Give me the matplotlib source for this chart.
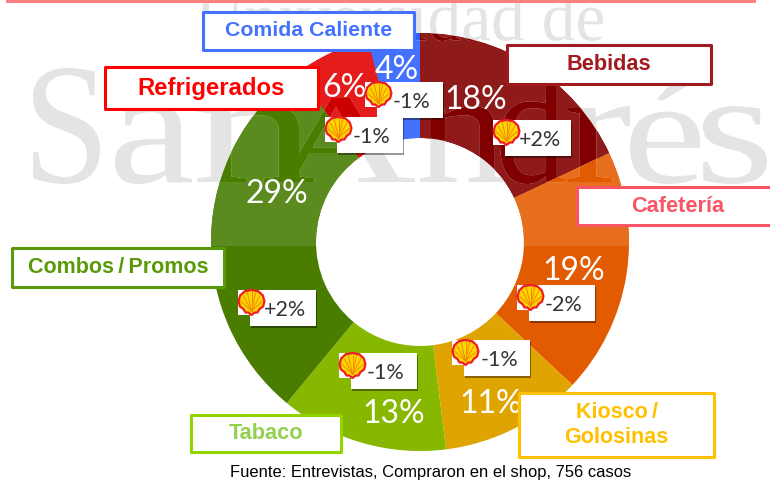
import matplotlib
matplotlib.use("Agg")
import matplotlib.pyplot as plt
from matplotlib.font_manager import FontProperties
from matplotlib.patches import PathPatch, Polygon, Rectangle
from matplotlib.path import Path
from matplotlib.textpath import TextPath
from matplotlib.transforms import Affine2D

# data
categories = ["Bebidas", "Cafetería", "Kiosco\u2009/\nGolosinas", "Tabaco", "Combos\u2009/\u2009Promos", "Refrigerados", "Comida Caliente"]
shares = [18, 19, 11, 13, 29, 6, 4]
deltas = ["+2%", "-2%", "-1%", "-1%", "+2%", "-1%", "-1%"]
source_note = "Fuente: Entrevistas, Compraron en el shop, 756 casos"

# styles, same order as categories
base_colors = ["#800000", "#e35b00", "#e0a400", "#88b700", "#4a7c00", "#cc0000", "#2f5fee"]
haze_colors = ["#8f1a1a", "#e66e1c", "#e0a400", "#88b700", "#5b8a1e", "#e51c1c", "#4472ff"]
border_colors = ["#a01a1f", "#f95565", "#ffc000", "#92d400", "#5a9a08", "#ff0000", "#4472ff"]
text_colors = ["#a01a1f", "#f95565", "#ffc000", "#92d050", "#5a9a08", "#ff0000", "#4472ff"]
label_sizes = [15.7, 15.7, 15.5, 15.7, 15.5, 17.2, 15.3]

# layout in pixels
center = (420, 242)
outer_r = 209
inner_r = 104
boxes = [(507, 45, 711, 84), (577, 187, 775, 225), (519, 393, 714, 457), (191, 415, 341, 452),
         (12, 248, 224, 287), (105, 67, 318, 109), (203, 12, 414, 50)]
pct_pos = [(476, 100), (574, 271), (491, 404), (394, 414), (277, 194), (344, 88), (397, 70)]
logo_pos = [(493, 120), (517, 285), (452, 340), (339, 353), (238, 290), (325, 117), (365, 82)]

# watermark letters: letter, left, top, right, bottom
mark_letters = [("S", 33, 68, 100, 184), ("a", 115, 106, 192, 184), ("n", 197, 106, 313, 182),
                ("A", 270, 98, 415, 182), ("n", 420, 106, 505, 182), ("d", 500, 63, 565, 184),
                ("r", 568, 106, 630, 182), ("é", 630, 78, 700, 184), ("s", 703, 106, 767, 184)]

fig = plt.figure(figsize=(7.7, 4.8), dpi=100)
ax = fig.add_axes([0, 0, 1, 1])


def donut(colors):
    wedges, _ = ax.pie(shares, colors=colors, radius=outer_r, center=center, startangle=-90,
                       counterclock=True, wedgeprops=dict(width=outer_r - inner_r, linewidth=0))
    return wedges


def fit_text(word, x0, y0, x1, y1):
    tp = TextPath((0, 0), word, size=100, prop=FontProperties(family="Liberation Serif"))
    ext = tp.get_extents()
    sx = (x1 - x0) / ext.width
    sy = (y1 - y0) / ext.height
    tr = Affine2D().translate(-ext.x0, -ext.y1).scale(sx, -sy).translate(x0, y0)
    return tr.transform_path(tp)


def shell(x, y, w=27, h=25):
    ax.add_patch(Rectangle((x, y), w - 1, h, fc="white", ec="none", zorder=8))
    outline = [(0.02, 0.45), (0.08, 0.22), (0.25, 0.05), (0.5, 0.0), (0.75, 0.05), (0.92, 0.22), (0.98, 0.45),
               (0.93, 0.66), (0.8, 0.76), (0.72, 0.9), (0.62, 0.9), (0.5, 1.0), (0.38, 0.9), (0.28, 0.9),
               (0.2, 0.76), (0.07, 0.66)]
    pts = [(x + a * w, y + b * h) for a, b in outline]
    ax.add_patch(Polygon(pts, closed=True, fc="#ffd500", ec="#ee1c25", lw=1.6, joinstyle="round", zorder=9))
    rays = [(0.1, 0.45), (0.2, 0.25), (0.35, 0.12), (0.5, 0.08), (0.65, 0.12), (0.8, 0.25), (0.9, 0.45)]
    for a, b in rays:
        ax.plot([x + 0.5 * w, x + a * w], [y + 0.84 * h, y + b * h], color="#f08a00", lw=0.7, zorder=10)


# donut, lighter above the line where the watermark picture ends
donut(base_colors)
haze_area = Path([(0, 0), (770, 0), (770, 246), (0, 246), (0, 0)], closed=True)
for w in donut(haze_colors):
    # pie wedges come with clipping off
    w.set_clip_on(True)
    w.set_clip_path(haze_area, ax.transData)

# watermark, gray on the white and the plain wedge colour on the ring
parts = [fit_text("Universidad de", 197, -8, 603, 41)]
for ch, x0, y0, x1, y1 in mark_letters:
    parts.append(fit_text(ch, x0, y0, x1, y1))
glyphs = Path.make_compound_path(*parts)
ax.add_patch(PathPatch(glyphs, fc="#e4e4e4", ec="none", zorder=2))
for w, c in zip(donut(haze_colors), base_colors):
    w.set_visible(False)
    gp = PathPatch(glyphs, fc=c, ec="none", zorder=3)
    ax.add_patch(gp)
    gp.set_clip_path(w)

ax.set_xlim(0, 770)
ax.set_ylim(480, 0)
ax.set_aspect("equal")
ax.axis("off")

# line at the top
ax.add_patch(Rectangle((6, 0), 750, 2.5, fc="#ff8080", ec="none", zorder=4))

for i in range(len(categories)):
    ax.text(pct_pos[i][0], pct_pos[i][1], "%d%%" % shares[i], color="white", family="Lato", fontsize=23,
            ha="center", va="center", zorder=5)

# change boxes with logo
for i in range(len(categories)):
    lx, ly = logo_pos[i]
    ax.add_patch(Rectangle((lx + 13, ly + 2), 66, 36, fc="#00000066", ec="none", zorder=6))
    ax.add_patch(Rectangle((lx + 12, ly), 66, 36, fc="white", ec="none", zorder=7))
    ax.text(lx + 47, ly + 20, deltas[i], color="#333333", family="Lato", fontsize=15.5,
            ha="center", va="center", zorder=11)
    shell(lx, ly)

# category boxes
for i in range(len(categories)):
    x0, y0, x1, y1 = boxes[i]
    ax.add_patch(Rectangle((x0, y0), x1 - x0, y1 - y0, fc="white", ec=border_colors[i], lw=2.2,
                           joinstyle="round", zorder=12))
    cx = (x0 + x1) / 2 if i != 1 else 678
    ax.text(cx, (y0 + y1) / 2, categories[i], color=text_colors[i], family="Liberation Sans", weight="bold",
            fontsize=label_sizes[i], ha="center", va="center", linespacing=1.25, zorder=13)

ax.text(431, 472, source_note, color="black", family="Liberation Sans", fontsize=11.9,
        ha="center", va="center", zorder=13)

fig.savefig("out.png", dpi=100)
